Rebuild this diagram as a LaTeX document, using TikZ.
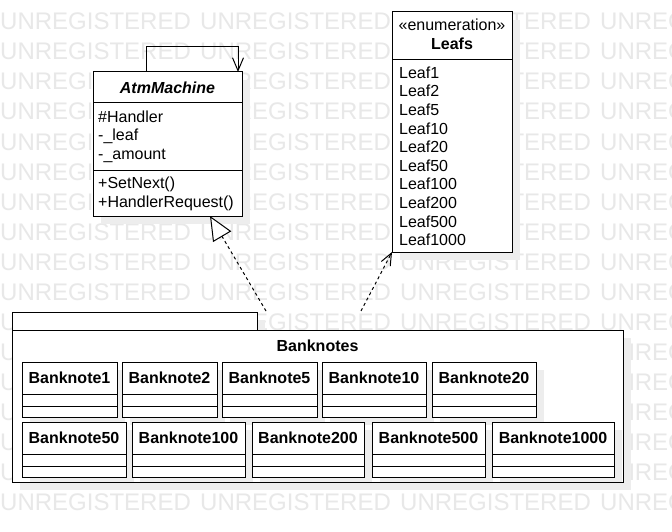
\documentclass[tikz,border=0pt]{standalone}
\usepackage{fontspec}
\setmainfont{Liberation Sans}
\usetikzlibrary{arrows.meta,shadows,calc}
\begin{document}
\begin{tikzpicture}[x=1pt,y=-1pt,
  wm/.style={font=\fontsize{24}{28}\selectfont, text=black!9, inner sep=0pt, anchor=base west},
  box/.style={draw=black, line width=1pt, fill=white, inner sep=0pt, outer sep=0pt, anchor=north west,
    drop shadow={shadow xshift=8pt, shadow yshift=-8pt, fill=black!7, opacity=1}},
  sepline/.style={draw=black, line width=1pt},
  txt/.style={inner sep=0pt, anchor=base west, font=\fontsize{16}{18.6}\selectfont},
  ctxt/.style={inner sep=0pt, anchor=base, font=\fontsize{16}{18.6}\selectfont},
  btxt/.style={inner sep=0pt, anchor=base, font=\fontsize{16}{18.6}\selectfont\bfseries},
  conn/.style={draw=black, line width=1pt},
  dashconn/.style={draw=black, line width=1pt, dash pattern=on 3pt off 3pt}
]
\useasboundingbox (0,0) rectangle (672,532);
\fill[white] (0,0) rectangle (672,532);
% watermark
\begin{scope}
\clip (0,0) rectangle (672,532);
\foreach \k in {0,...,16}{
  \foreach \j in {0,1,2,3}{
    \node[wm] (wm-\k-\j) at (200*\j, 30+30*\k) {UNREGISTERED};
  }
}
\end{scope}

% AtmMachine
\node[box, minimum width=149pt, minimum height=144pt] (atm) at (93,72) {};
\draw[sepline] (atm.west |- 0,103) -- (atm.east |- 0,103);
\draw[sepline] (atm.west |- 0,170) -- (atm.east |- 0,170);
\node[ctxt, font=\fontsize{16}{18.6}\selectfont\bfseries\itshape] (atm-t) at (atm.north |- 0,93.3) {AtmMachine};
\node[txt] (atm-a1) at (98,122.3) {\#Handler};
\node[txt] (atm-a2) at (98,140.9) {-\_leaf};
\node[txt] (atm-a3) at (98,159.5) {-\_amount};
\node[txt] (atm-m1) at (98,189.0) {+SetNext()};
\node[txt] (atm-m2) at (98,207.6) {+HandlerRequest()};

% Leafs
\node[box, minimum width=120pt, minimum height=240pt] (leafs) at (392,12) {};
\draw[sepline] (leafs.west |- 0,60) -- (leafs.east |- 0,60);
\node[ctxt] (leafs-s) at (leafs.north |- 0,30.7) {«enumeration»};
\node[btxt] (leafs-t) at (leafs.north |- 0,49.3) {Leafs};
\foreach \v [count=\i from 0] in {1,2,5,10,20,50,100,200,500,1000}{
  \node[txt] (leaf-\v) at (399,78.3+18.6*\i) {Leaf\v};
}

% Package Banknotes
\node[box, minimum width=245pt, minimum height=18pt] (pkgtab) at (12,312) {};
\node[box, minimum width=611pt, minimum height=152pt] (pkg) at (12,330) {};
\node[btxt] (pkg-t) at (pkg.north |- 0,351.7) {Banknotes};

\foreach \n/\x/\w/\v in {b1/22/95/1, b2/122/95/2, b5/222/95/5, b10/322/104/10, b20/432/104/20}{
  \node[box, minimum width=\w pt, minimum height=55pt] (\n) at (\x,362) {};
  \draw[sepline] (\n.west |- 0,394) -- (\n.east |- 0,394);
  \draw[sepline] (\n.west |- 0,406) -- (\n.east |- 0,406);
  \node[btxt] (\n-t) at (\n.north |- 0,383.3) {Banknote\v};
}
\foreach \n/\x/\w/\v in {b50/22/104/50, b100/132/113/100, b200/252/112/200, b500/372/113/500, b1000/492/122/1000}{
  \node[box, minimum width=\w pt, minimum height=55pt] (\n) at (\x,422) {};
  \draw[sepline] (\n.west |- 0,454) -- (\n.east |- 0,454);
  \draw[sepline] (\n.west |- 0,466) -- (\n.east |- 0,466);
  \node[btxt] (\n-t) at (\n.north |- 0,443.3) {Banknote\v};
}
% redraw package outline over the inner shadows
\draw[sepline] (pkg.north west) rectangle (pkg.south east);

% connectors
\coordinate (realS) at (266,311);
\coordinate (depS) at (361,311);
\draw[dashconn, -{Triangle[open, length=24pt, width=21pt, fill=white]}] (realS) -- ($(atm.south west)+(117,0)$);
\draw[dashconn, -{Straight Barb[length=12pt, width=10pt]}] (depS) -- (leafs.south west);
\draw[conn, -{Straight Barb[length=13pt, width=11pt]}] ($(atm.north west)+(53,0)$) -- ++(0,-25) -| ($(atm.north west)+(145,0)$);
\end{tikzpicture}
\end{document}
